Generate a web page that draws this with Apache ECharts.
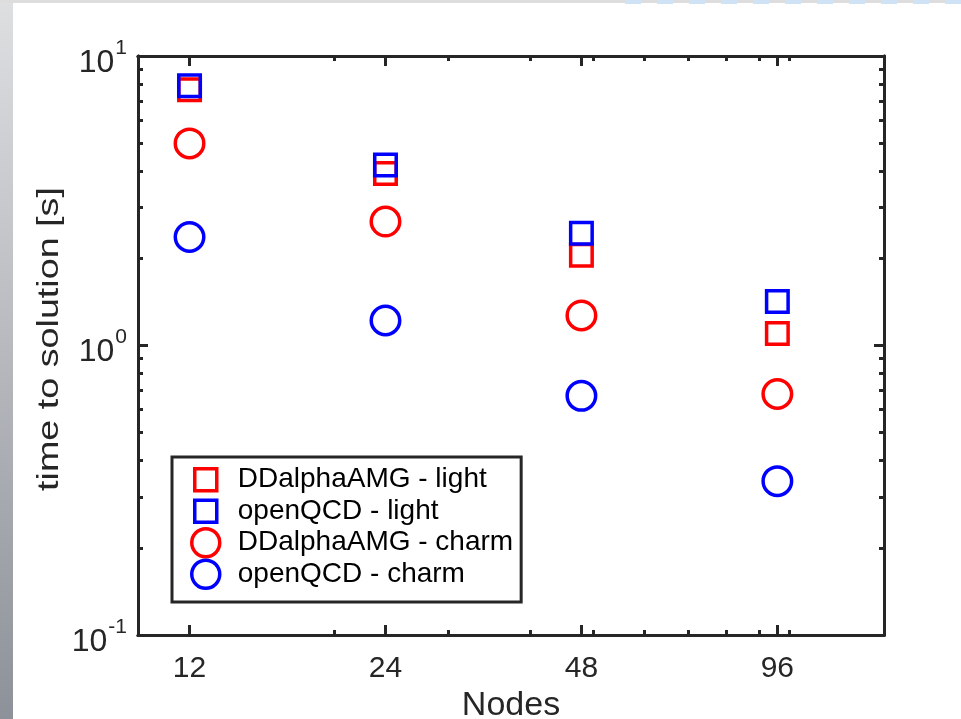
<!DOCTYPE html>
<html>
<head>
<meta charset="utf-8">
<script src="https://cdn.jsdelivr.net/npm/echarts@6/dist/echarts.min.js"></script>
<style>
html,body{margin:0;padding:0;background:#fff;}
#chart{width:961px;height:719px;}
</style>
</head>
<body>
<div id="chart"></div>
<script>
// ---- data ----
const nodes = [12, 24, 48, 96];
const ddalphaLight = [7.64, 3.93, 2.05, 1.10];
const openqcdLight = [7.89, 4.20, 2.44, 1.42];
const ddalphaCharm = [4.99, 2.68, 1.27, 0.68];
const openqcdCharm = [2.37, 1.22, 0.67, 0.34];
const seriesNames = ['DDalphaAMG - light', 'openQCD - light', 'DDalphaAMG - charm', 'openQCD - charm'];
const xMajorTicks = [12, 24, 48, 96];
const xMinorTicks = [20, 30, 40, 50, 60, 70, 80, 90, 100];
const yMajorTicks = [0.1, 1, 10];
const yMinorTicks = [0.2, 0.3, 0.4, 0.5, 0.6, 0.7, 0.8, 0.9, 2, 3, 4, 5, 6, 7, 8, 9];
const xTitle = 'Nodes';
const yTitle = 'time to solution [s]';

const FONT = '"Liberation Sans", Arial, Helvetica, sans-serif';
const AX = '#262626';
const RED = '#ff0000';
const BLUE = '#0000ff';

function pairs(ys) { return nodes.map((n, i) => [n, ys[i]]); }

function xAx(pos, custom, len, labels) {
  return {
    type: 'log', logBase: 2, min: 10, max: 140, position: pos,
    axisLine: { show: true, onZero: false, lineStyle: { color: AX, width: 3 } },
    axisTick: { show: true, inside: true, length: len, customValues: custom, lineStyle: { color: AX, width: 3 } },
    axisLabel: labels ? { show: true, customValues: custom, margin: 19, color: '#262626', fontFamily: FONT, fontSize: 30, formatter: v => String(Math.round(v)) } : { show: false },
    splitLine: { show: false }, minorTick: { show: false },
    name: labels ? xTitle : '', nameLocation: 'middle', nameGap: 54,
    nameTextStyle: { color: '#262626', fontFamily: FONT, fontSize: 34 }
  };
}
function yAx(pos, custom, len, labels) {
  return {
    type: 'log', logBase: 10, min: 0.1, max: 10, position: pos,
    axisLine: { show: true, onZero: false, lineStyle: { color: AX, width: 3 } },
    axisTick: { show: true, inside: true, length: len, customValues: custom, lineStyle: { color: AX, width: 3 } },
    axisLabel: labels ? {
      show: true, customValues: custom, margin: 11, color: '#262626', fontFamily: FONT,
      formatter: v => '{b|10}{s|' + Math.round(Math.log10(v)) + '}',
      rich: { b: { fontSize: 32, fontFamily: FONT, color: '#262626', padding: [14, 0, 0, 0] }, s: { fontSize: 21, fontFamily: FONT, color: '#262626', padding: [0, 0, 16, 1] } }
    } : { show: false },
    splitLine: { show: false }, minorTick: { show: false }
  };
}

const chart = echarts.init(document.getElementById('chart'), null, { renderer: 'canvas' });

function sc(name, data, symbol, size, color) {
  return {
    name, type: 'scatter', data, symbol, symbolSize: size, xAxisIndex: 0, yAxisIndex: 0,
    itemStyle: { color: 'rgba(0,0,0,0)', borderColor: color, borderWidth: 3.5, opacity: 1 },
    emphasis: { disabled: true }
  };
}

const sq = 'path://M0,0L10,0L10,10L0,10Z';
// square icon padded inside a 28x28 box for the legend
const sqLegend = 'path://M0,0M28,28M3,3L25,3L25,25L3,25Z';

chart.setOption({
  animation: false,
  backgroundColor: '#ffffff',
  grid: { left: 138, top: 56, right: 77, bottom: 84, containLabel: false, outerBoundsMode: 'none' },
  xAxis: [xAx('bottom', xMajorTicks, 10, true), xAx('bottom', xMinorTicks, 5, false), xAx('top', xMajorTicks, 10, false), xAx('top', xMinorTicks, 5, false)],
  yAxis: [yAx('left', yMajorTicks, 10, true), yAx('left', yMinorTicks, 5, false), yAx('right', yMajorTicks, 10, false), yAx('right', yMinorTicks, 5, false)],
  legend: {
    orient: 'vertical', left: 172, top: 457,
    backgroundColor: '#fff', borderColor: AX, borderWidth: 3,
    padding: [7, 8, 12, 18],
    itemWidth: 54, itemHeight: 28, itemGap: 0,
    symbolKeepAspect: true,
    selectedMode: false,
    textStyle: { color: '#000', fontFamily: FONT, fontSize: 28 },
    data: [
      { name: seriesNames[0], icon: sqLegend, itemStyle: { color: 'rgba(0,0,0,0)', borderColor: RED, borderWidth: 3.5 } },
      { name: seriesNames[1], icon: sqLegend, itemStyle: { color: 'rgba(0,0,0,0)', borderColor: BLUE, borderWidth: 3.5 } },
      { name: seriesNames[2], icon: 'circle', itemStyle: { color: 'rgba(0,0,0,0)', borderColor: RED, borderWidth: 3.5 } },
      { name: seriesNames[3], icon: 'circle', itemStyle: { color: 'rgba(0,0,0,0)', borderColor: BLUE, borderWidth: 3.5 } }
    ]
  },
  series: [
    sc(seriesNames[0], pairs(ddalphaLight), sq, 21.5, RED),
    sc(seriesNames[1], pairs(openqcdLight), sq, 21.5, BLUE),
    sc(seriesNames[2], pairs(ddalphaCharm), 'circle', 28.5, RED),
    sc(seriesNames[3], pairs(openqcdCharm), 'circle', 28.5, BLUE)
  ],
  graphic: [
    { type: 'rect', left: 0, top: 0, shape: { width: 13, height: 719 }, silent: true, z: 100,
      style: { fill: new echarts.graphic.LinearGradient(0, 0, 0, 1, [{ offset: 0, color: '#dedfe1' }, { offset: 1, color: '#8d9199' }]) } },
    { type: 'rect', left: 0, top: 0, shape: { width: 961, height: 3 }, silent: true, z: 100, style: { fill: '#dddddd' } },
    { type: 'line', silent: true, z: 101, shape: { x1: 625, y1: 1.5, x2: 961, y2: 1.5 }, style: { stroke: '#cfe2f6', lineWidth: 5, lineDash: [16, 16] } },
    { type: 'text', x: 50, y: 339, rotation: Math.PI / 2, scaleX: 1.3, silent: true,
      style: { text: yTitle, font: '29px "Liberation Sans", Arial, sans-serif', fill: '#262626', align: 'center', verticalAlign: 'middle' } }
  ]
});
</script>
</body>
</html>
